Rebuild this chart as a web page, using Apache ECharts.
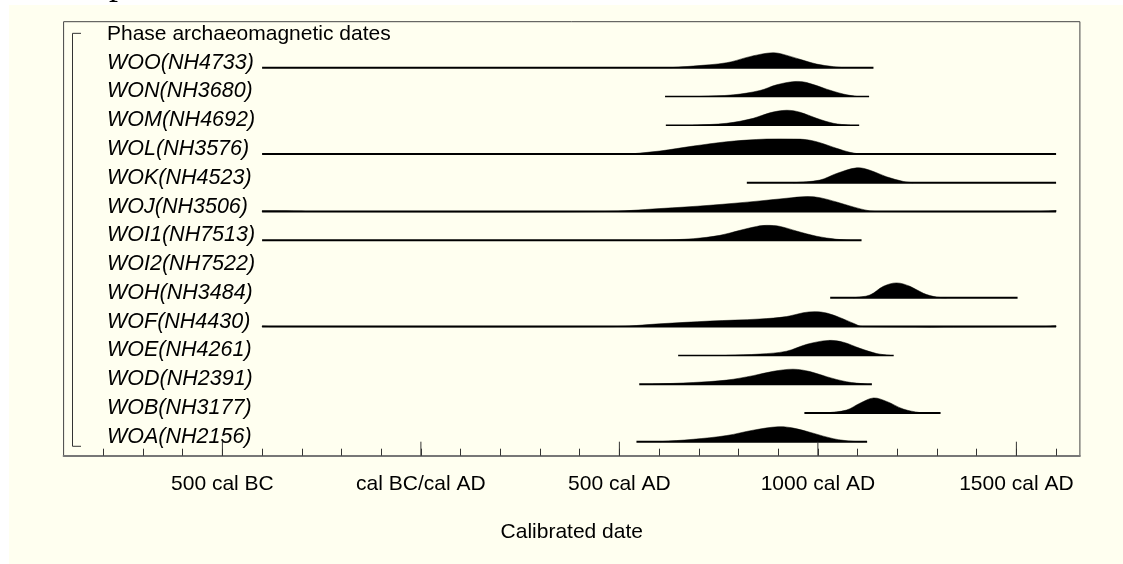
<!DOCTYPE html>
<html>
<head>
<meta charset="utf-8">
<script src="https://cdn.jsdelivr.net/npm/echarts@6/dist/echarts.min.js"></script>
<style>
html,body{margin:0;padding:0;background:#fff;}
#chart{width:1123px;height:564px;}
</style>
</head>
<body>
<div id="chart"></div>
<script>
// ---- data ----
const rowLabels = ['Phase archaeomagnetic dates','WOO(NH4733)','WON(NH3680)','WOM(NH4692)','WOL(NH3576)','WOK(NH4523)','WOJ(NH3506)','WOI1(NH7513)','WOI2(NH7522)','WOH(NH3484)','WOF(NH4430)','WOE(NH4261)','WOD(NH2391)','WOB(NH3177)','WOA(NH2156)'];
const rangeFrom = [null,-400,615,617,-400,821,-400,-400,null,1031,-400,648,550,966,543];
const rangeTo   = [null,1140,1129,1104,1600,1600,1600,1110,null,1503,1600,1191,1136,1309,1124];
const densityYears = [
  [],
  [628,686,770,821,854,888,913,955,997,1039,1064],
  [703,787,854,896,942,972,1022,1064,1098],
  [686,770,837,879,921,955,997,1039,1081],
  [527,602,686,770,821,871,938,972,1005,1047,1081,1106],
  [938,1005,1047,1098,1131,1173,1215,1240],
  [-400,-300,-290,460,602,728,854,921,972,1005,1047,1089,1131,1156,1560,1600],
  [602,686,753,804,846,871,905,946,997,1047,1081],
  [],
  [1089,1131,1165,1198,1232,1266,1299,1324],
  [-400,-380,485,602,728,854,921,963,993,1022,1056,1089,1114,1570,1600],
  [770,854,921,972,1026,1064,1106,1148,1182],
  [585,686,770,837,888,938,980,1022,1072,1123],
  [1022,1072,1106,1140,1173,1215,1257,1274],
  [602,686,770,837,900,938,988,1039,1089,1114]
];
const densityValues = [
  [],
  [0,0.11,0.33,0.69,0.89,1,0.89,0.56,0.24,0.07,0],
  [0,0.11,0.40,0.78,1,0.93,0.49,0.16,0],
  [0,0.13,0.46,0.83,1,0.87,0.46,0.13,0],
  [0,0.20,0.53,0.82,0.93,1,1,0.96,0.76,0.38,0.11,0],
  [0,0.18,0.62,1,0.84,0.40,0.09,0],
  [0.05,0.03,0,0,0.20,0.42,0.71,0.89,1,0.93,0.64,0.31,0.04,0,0,0.07],
  [0,0.11,0.33,0.67,0.93,1,0.93,0.62,0.27,0.07,0],
  [],
  [0,0.19,0.77,1,0.77,0.30,0.05,0],
  [0.04,0,0,0.19,0.37,0.51,0.67,0.93,1,0.91,0.60,0.23,0,0,0.05],
  [0,0.09,0.28,0.74,1,0.88,0.47,0.12,0],
  [0,0.11,0.27,0.57,0.86,1,0.84,0.50,0.16,0],
  [0,0.19,0.65,1,0.77,0.26,0.02,0],
  [0,0.16,0.41,0.77,1,0.91,0.57,0.20,0.02,0]
];
const majorTickYears = [-500,0,500,1000,1500];
const majorTickLabels = ['500 cal BC','cal BC/cal AD','500 cal AD','1000 cal AD','1500 cal AD'];
const thinRangeRows = [2,3,11];

// ---- drawing ----
const X_MIN = -900, X_MAX = 1660;
const Y_MIN = -0.599, Y_MAX = 14.487;
const PEAK = 0.52; // peak height in row units
const FONT = '"Liberation Sans", Arial, sans-serif';

const chart = echarts.init(document.getElementById('chart'), null, {renderer:'canvas'});

function renderRow(params, api) {
  const i = params.dataIndex;
  const children = [];
  const base = api.coord([0, i]);
  children.push({
    type: 'text',
    style: {
      text: rowLabels[i], x: 107, y: base[1] - 5,
      font: (i === 0 ? '21px ' : 'italic 21.5px ') + FONT,
      fill: '#000', verticalAlign: 'middle', align: 'left'
    }
  });
  if (i === 0) {
    const yTop = base[1] - 5.6;
    const yBot = api.coord([0, rowLabels.length - 1])[1] + 4.6;
    children.push({
      type: 'polyline',
      shape: {points: [[81, yTop], [72.5, yTop], [72.5, yBot], [81, yBot]]},
      style: {stroke: '#333', lineWidth: 1, fill: null}
    });
  }
  if (rangeFrom[i] !== null) {
    const yrs = densityYears[i], vals = densityValues[i];
    const pts = [api.coord([yrs[0], i])];
    for (let k = 0; k < yrs.length; k++) {
      pts.push(api.coord([yrs[k], i - vals[k] * PEAK]));
    }
    pts.push(api.coord([yrs[yrs.length - 1], i]));
    children.push({
      type: 'polyline',
      shape: {points: pts, smooth: 0.35},
      style: {fill: '#000', stroke: '#000', lineWidth: 0.5}
    });
    const p1 = api.coord([rangeFrom[i], i]);
    const p2 = api.coord([rangeTo[i], i]);
    children.push({
      type: 'line',
      shape: {x1: p1[0], y1: p1[1], x2: p2[0], y2: p2[1]},
      style: {stroke: '#000', lineWidth: thinRangeRows.indexOf(i) >= 0 ? 1.5 : 2}
    });
  }
  return {type: 'group', children: children};
}

function renderMajorTick(params, api) {
  const p = api.coord([api.value(0), Y_MAX]);
  return {
    type: 'line',
    shape: {x1: p[0], y1: p[1], x2: p[0], y2: p[1] - 14},
    style: {stroke: '#333', lineWidth: 1}
  };
}

const option = {
  backgroundColor: '#ffffff',
  animation: false,
  graphic: [
    {type: 'rect', left: 9, top: 5, shape: {width: 1114, height: 559}, style: {fill: '#fffff0'}, z: -100, silent: true},
    {type: 'text', x: 109, y: 3, style: {text: 'p', font: '36px "Liberation Serif", serif', fill: '#000', verticalAlign: 'bottom'}, z: -50, silent: true}
  ],
  grid: {
    left: 63.6, right: 43.1, top: 21.7, bottom: 108.3,
    show: true, borderColor: '#444', borderWidth: 1, backgroundColor: 'transparent'
  },
  xAxis: {
    type: 'value', min: X_MIN, max: X_MAX, interval: 100,
    axisLine: {show: true, onZero: false, lineStyle: {color: '#777', width: 2}},
    axisTick: {show: true, inside: true, length: 7, lineStyle: {color: '#333', width: 1}},
    splitLine: {show: false},
    axisLabel: {
      margin: 18, fontSize: 21, fontFamily: FONT, color: '#000',
      showMinLabel: false, showMaxLabel: false,
      formatter: function (v) {
        const k = majorTickYears.indexOf(v);
        return k >= 0 ? majorTickLabels[k] : '';
      }
    },
    name: 'Calibrated date', nameLocation: 'middle', nameGap: 66,
    nameTextStyle: {fontSize: 21, fontFamily: FONT, color: '#000'}
  },
  yAxis: {
    type: 'value', inverse: true, min: Y_MIN, max: Y_MAX, show: false
  },
  series: [
    {
      type: 'custom', renderItem: renderRow, clip: false,
      data: rowLabels.map(function (_, i) { return [rangeFrom[i] === null ? 0 : rangeFrom[i], i]; }),
      encode: {x: 0, y: 1}, silent: true
    },
    {
      type: 'custom', renderItem: renderMajorTick, clip: false,
      data: majorTickYears.map(function (y) { return [y, Y_MAX]; }),
      encode: {x: 0, y: 1}, silent: true
    }
  ]
};
chart.setOption(option);
</script>
</body>
</html>
